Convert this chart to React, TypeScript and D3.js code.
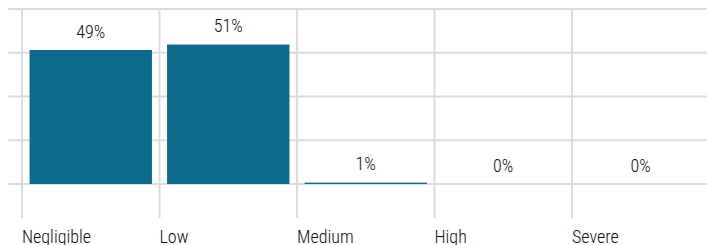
import React from "react";
import * as d3 from "d3";

const categories: string[] = ["Negligible", "Low", "Medium", "High", "Severe"];
const values: number[] = [49, 51, 0.5, 0, 0];
const yTicks: number[] = [0, 16, 32, 48, 64];

const W = 707;
const H = 245;
const FONT = "'Liberation Sans Narrow', 'Roboto Condensed', 'Arial Narrow', Roboto, sans-serif";

export default function App() {
  const x0 = 22;
  const step = 137.5;
  const cols = d3.scaleBand<string>().domain(categories).range([x0, x0 + step * categories.length]).padding(0);
  const bars = d3
    .scaleBand<string>()
    .domain(categories)
    .range([x0, x0 + step * categories.length])
    .paddingInner(0.11)
    .paddingOuter(0.055);
  const y = d3.scaleLinear().domain([0, 64]).range([184, 9]);
  const gridColor = "#dcdcdc";

  return (
    <svg
      width={W}
      height={H}
      style={{ position: "absolute", left: 0, top: 0, background: "#fff" }}
      fontFamily={FONT}
    >
      {yTicks.map((t) => (
        <line key={"h" + t} x1={8} x2={W} y1={y(t)} y2={y(t)} stroke={gridColor} strokeWidth={2} />
      ))}
      {categories.map((c) => (
        <line key={"v" + c} x1={cols(c)!} x2={cols(c)!} y1={y(64)} y2={218} stroke={gridColor} strokeWidth={2} />
      ))}
      {categories.map((c, i) => (
        <rect
          key={"b" + c}
          x={bars(c)!}
          y={y(values[i])}
          width={bars.bandwidth()}
          height={Math.max(0, y(0) - y(values[i]))}
          fill="#0b6b8c"
        />
      ))}
      {categories.map((c, i) => (
        <text
          key={"l" + c}
          x={bars(c)! + bars.bandwidth() / 2}
          y={y(values[i]) - 12.5}
          textAnchor="middle"
          fontSize={18}
          fontWeight={300}
          fill="#111"
        >
          {Math.round(values[i] + 0.01) + "%"}
        </text>
      ))}
      {categories.map((c) => (
        <text key={"c" + c} x={cols(c)!} y={243} fontSize={18} fontWeight={300} fill="#111">
          {c}
        </text>
      ))}
    </svg>
  );
}
